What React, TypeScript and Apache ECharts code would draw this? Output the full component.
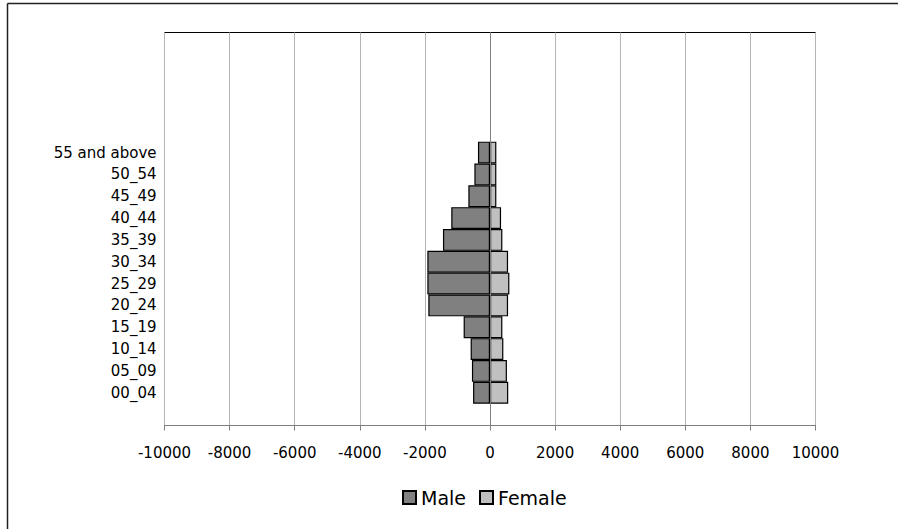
import React, { useEffect, useRef } from "react";
import * as echarts from "echarts";

const ageGroups = [
  "00_04", "05_09", "10_14", "15_19", "20_24", "25_29",
  "30_34", "35_39", "40_44", "45_49", "50_54", "55 and above",
];
const maleValues = [-520, -555, -595, -810, -1895, -1925, -1925, -1445, -1190, -665, -480, -370];
const femaleValues = [560, 520, 410, 380, 555, 595, 555, 380, 340, 195, 195, 195];
const xTicks = [-10000, -8000, -6000, -4000, -2000, 0, 2000, 4000, 6000, 8000, 10000];
const seriesNames = ["Male", "Female"];

const padBelow = 1;
const padAbove = 5;

const FONT = "'DejaVu Sans', sans-serif";

export default function App() {
  const ref = useRef<HTMLDivElement>(null);

  useEffect(() => {
    if (!ref.current) return;
    const chart = echarts.init(ref.current, undefined, { renderer: "svg" });

    const blanksBelow = Array.from({ length: padBelow }, (_, i) => " ".repeat(i + 1));
    const blanksAbove = Array.from({ length: padAbove }, (_, i) => " ".repeat(padBelow + i + 1));
    const categories = [...blanksBelow, ...ageGroups, ...blanksAbove];
    const nullsBelow = blanksBelow.map(() => null);
    const nullsAbove = blanksAbove.map(() => null);
    const male = [...nullsBelow, ...maleValues, ...nullsAbove];
    const female = [...nullsBelow, ...femaleValues, ...nullsAbove];

    const splitColors = xTicks.map((t) => (t === 0 ? "#808080" : "#b4b4b4"));

    chart.setOption({
      animation: false,
      backgroundColor: "#ffffff",
      textStyle: { fontFamily: FONT },
      grid: {
        left: 164.5,
        right: 82.5,
        top: 32.5,
        bottom: 103.5,
        show: true,
        borderColor: "#000000",
        borderWidth: 1,
        containLabel: false,
      },
      legend: {
        data: seriesNames,
        left: 397,
        top: 483,
        icon: "rect",
        itemWidth: 13,
        itemHeight: 13,
        itemGap: 13,
        textStyle: { fontFamily: FONT, fontSize: 19, color: "#000000" },
      },
      xAxis: {
        type: "value",
        min: -10000,
        max: 10000,
        interval: 2000,
        axisLine: { show: true, lineStyle: { color: "#808080", width: 1 } },
        axisTick: { show: true, inside: false, length: 5, lineStyle: { color: "#808080" } },
        axisLabel: {
          margin: 20,
          fontFamily: FONT,
          fontSize: 15,
          color: "#000000",
          formatter: (v: number) => String(v),
        },
        splitLine: { show: true, lineStyle: { color: splitColors, width: 1 } },
      },
      yAxis: {
        type: "category",
        data: categories,
        axisLine: { show: false, onZero: false },
        axisTick: { show: false },
        axisLabel: {
          margin: 8,
          fontFamily: FONT,
          fontSize: 15,
          color: "#000000",
          padding: [4, 0, 0, 0],
        },
        splitLine: { show: false },
      },
      series: [
        {
          name: seriesNames[0],
          type: "bar",
          stack: "pop",
          data: male,
          barCategoryGap: "0%",
          itemStyle: { color: "#808080", borderColor: "#000000", borderWidth: 1.2 },
        },
        {
          name: seriesNames[1],
          type: "bar",
          stack: "pop",
          data: female,
          barCategoryGap: "0%",
          itemStyle: { color: "#c0c0c0", borderColor: "#000000", borderWidth: 1.2 },
          markLine: {
            silent: true,
            symbol: "none",
            label: { show: false },
            lineStyle: { color: "#808080", width: 1, type: "solid" },
            data: [{ xAxis: 0 }],
            z: 10,
          },
        },
      ],
      graphic: [
        {
          type: "line",
          shape: { x1: 7.5, y1: 3.5, x2: 7.5, y2: 529 },
          style: { stroke: "#222222", lineWidth: 1.5 },
        },
        {
          type: "line",
          shape: { x1: 7.5, y1: 3.5, x2: 898, y2: 3.5 },
          style: { stroke: "#222222", lineWidth: 1.5 },
        },
      ],
    });

    return () => chart.dispose();
  }, []);

  return (
    <div
      ref={ref}
      style={{ position: "fixed", left: 0, top: 0, width: 898, height: 529 }}
    />
  );
}
